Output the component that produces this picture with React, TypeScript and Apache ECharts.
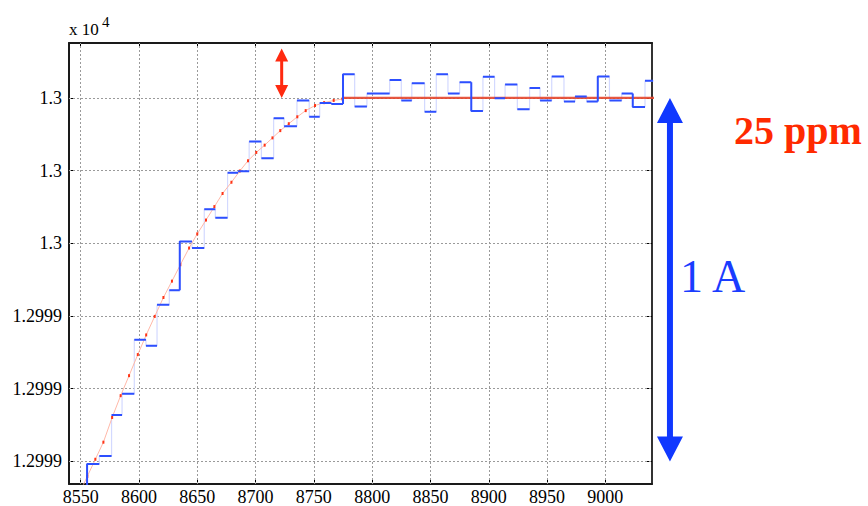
import React, { useEffect, useRef } from "react";
import * as echarts from "echarts";

// ---------- data ----------
const X_TICKS = [8550, 8600, 8650, 8700, 8750, 8800, 8850, 8900, 8950, 9000];
const Y_TICKS = [12999.0, 12999.2, 12999.4, 12999.6, 12999.8, 13000.0];
const Y_TICK_LABELS = ["1.2999", "1.2999", "1.2999", "1.3", "1.3", "1.3"];

// measured (stepped) current: edges of each sample interval and its level
const STEP_EDGES = [
  8545.5, 8555.5, 8566, 8576.5, 8585.5, 8596, 8606, 8615.5, 8626, 8635, 8645.5,
  8656, 8665.5, 8676, 8685, 8694.5, 8705, 8715.5, 8724.5, 8735.5, 8746,
  8755, 8765, 8775, 8785, 8795.5, 8805, 8815, 8825, 8834, 8845,
  8855, 8865, 8875, 8885, 8895, 8905, 8914, 8924.5, 8935, 8944,
  8954, 8964.5, 8974, 8984, 8993.5, 9003.5, 9014, 9023.5, 9034, 9044,
];
const STEP_LEVELS = [
  12998.9, 12998.993, 12999.015, 12999.128, 12999.186, 12999.335, 12999.318, 12999.431, 12999.471, 12999.605, 12999.587,
  12999.694, 12999.67, 12999.794, 12999.798, 12999.88, 12999.834, 12999.944, 12999.922, 12999.993, 12999.948,
  12999.986, 12999.983, 13000.065, 12999.976, 13000.012, 13000.012, 13000.049, 12999.993, 13000.04, 12999.962,
  13000.065, 13000.012, 13000.043, 12999.964, 13000.058, 12999.999, 13000.037, 12999.969, 13000.027, 12999.993,
  13000.059, 12999.99, 13000.004, 12999.99, 13000.059, 12999.993, 13000.012, 12999.975, 13000.047,
];
// intervals whose leading edge is drawn as a dark vertical
const DARK_RISES = [1, 9, 23, 34, 45, 48];

// model (reference) curve
const MODEL_X = [
  8548.5, 8555.7, 8562.6, 8569.5, 8577.0, 8584.3, 8591.5, 8599.0, 8606.2, 8613.5, 8621.0,
  8628.3, 8635.5, 8643.0, 8650.0, 8657.5, 8664.7, 8671.7, 8679.3, 8686.5, 8693.5, 8700.6,
  8707.8, 8714.5, 8721.2, 8728.5, 8735.8, 8743.0, 8751.0, 8758.8, 8767.0, 8774.5,
];
const MODEL_Y = [
  12998.91, 12998.959, 12999.006, 12999.053, 12999.121, 12999.181, 12999.236, 12999.294, 12999.348, 12999.399, 12999.451,
  12999.496, 12999.541, 12999.587, 12999.626, 12999.664, 12999.701, 12999.737, 12999.768, 12999.799, 12999.827, 12999.85,
  12999.87, 12999.89, 12999.91, 12999.929, 12999.948, 12999.965, 12999.979, 12999.987, 12999.993, 12999.997,
];
const PLATEAU_X = [8774.5, 9045];
const PLATEAU_Y = [13000.0, 13000.0];

// annotations (data coordinates)
const PPM_ARROW = { x: 8722.4, top: 13000.136, bottom: 13000.0 };
const AMP_ARROW = { x: 9055.4, top: 13000.0, bottom: 12999.0 };

const FONT = "Liberation Serif";

function doubleArrow(
  cx: number,
  yTop: number,
  yBot: number,
  headLen: number,
  headW: number,
  shaftW: number,
  color: string
) {
  const hw = headW / 2;
  const sw = shaftW / 2;
  return {
    type: "polygon",
    shape: {
      points: [
        [cx, yTop],
        [cx + hw, yTop + headLen],
        [cx + sw, yTop + headLen],
        [cx + sw, yBot - headLen],
        [cx + hw, yBot - headLen],
        [cx, yBot],
        [cx - hw, yBot - headLen],
        [cx - sw, yBot - headLen],
        [cx - sw, yTop + headLen],
        [cx - hw, yTop + headLen],
      ],
    },
    style: { fill: color },
    z: 20,
  };
}

export default function App() {
  const ref = useRef<HTMLDivElement>(null);

  useEffect(() => {
    const chart = echarts.init(ref.current!, null, { renderer: "svg" });

    const lightData: any[] = [];
    const darkData: any[] = [];
    for (let i = 0; i < STEP_LEVELS.length; i++) {
      lightData.push([STEP_EDGES[i], STEP_LEVELS[i]]);
      lightData.push([STEP_EDGES[i + 1], STEP_LEVELS[i]]);
      if (i > 0 && DARK_RISES.includes(i)) darkData.push([STEP_EDGES[i], STEP_LEVELS[i - 1]]);
      darkData.push([STEP_EDGES[i], STEP_LEVELS[i]]);
      darkData.push([STEP_EDGES[i + 1], STEP_LEVELS[i]]);
      darkData.push([STEP_EDGES[i + 1], "-"]);
    }
    const modelData = MODEL_X.map((x, i) => [x, MODEL_Y[i]]);
    const plateauData = PLATEAU_X.map((x, i) => [x, PLATEAU_Y[i]]);

    const axisLineStyle = { color: "#1a1a1a", width: 2 };
    const tickStyle = { color: "#000", width: 1 };
    const yFmt = (v: number) => {
      const i = Y_TICKS.findIndex((t) => Math.abs(t - v) < 1e-6);
      return i >= 0 ? Y_TICK_LABELS[i] : "";
    };
    const xFmt = (v: number) => String(Math.round(v));

    const option: any = {
      animation: false,
      backgroundColor: "#fff",
      textStyle: { fontFamily: FONT },
      grid: { left: 69, right: 216, top: 43, bottom: 22, containLabel: false, outerBoundsMode: "none" },
      xAxis: [
        {
          type: "value",
          position: "bottom",
          min: 8540,
          max: 9040,
          axisLine: { show: true, onZero: false, lineStyle: axisLineStyle },
          axisTick: { show: true, inside: true, length: 5, customValues: X_TICKS, lineStyle: tickStyle },
          axisLabel: { customValues: X_TICKS, formatter: xFmt, fontFamily: FONT, fontSize: 18, color: "#000", margin: 4 },
          splitLine: { show: false },
        },
        {
          type: "value",
          position: "top",
          min: 8540,
          max: 9040,
          axisLine: { show: true, onZero: false, lineStyle: axisLineStyle },
          axisTick: { show: true, inside: true, length: 5, customValues: X_TICKS, lineStyle: tickStyle },
          axisLabel: { show: false },
          splitLine: { show: false },
        },
      ],
      yAxis: [
        {
          type: "value",
          position: "left",
          min: 12998.938,
          max: 13000.151,
          axisLine: { show: true, onZero: false, lineStyle: axisLineStyle },
          axisTick: { show: true, inside: true, length: 5, customValues: Y_TICKS, lineStyle: tickStyle },
          axisLabel: { customValues: Y_TICKS, formatter: yFmt, fontFamily: FONT, fontSize: 18, color: "#000", margin: 7 },
          splitLine: { show: false },
        },
        {
          type: "value",
          position: "right",
          min: 12998.938,
          max: 13000.151,
          axisLine: { show: true, onZero: false, lineStyle: { color: "#333", width: 2 } },
          axisTick: { show: true, inside: true, length: 5, customValues: Y_TICKS, lineStyle: tickStyle },
          axisLabel: { show: false },
          splitLine: { show: false },
        },
      ],
      series: [
        {
          name: "grid",
          type: "line",
          data: [],
          silent: true,
          markLine: {
            z: 1,
            silent: true,
            symbol: ["none", "none"],
            label: { show: false },
            lineStyle: { color: "#9a9a9a", type: [2, 2], width: 1 },
            emphasis: { disabled: true },
            data: [
              ...X_TICKS.map((v) => ({ xAxis: v })),
              ...Y_TICKS.map((v) => ({ yAxis: v })),
            ],
          },
        },
        {
          name: "connectors",
          type: "line",
          z: 3,
          data: lightData,
          showSymbol: false,
          lineStyle: { color: "#d3d9ff", width: 1.2 },
          silent: true,
        },
        {
          name: "model",
          type: "line",
          z: 4,
          data: modelData,
          symbol: "rect",
          symbolSize: [2, 3],
          showSymbol: true,
          itemStyle: { color: "#ff3416" },
          lineStyle: { color: "#ffb8a8", width: 1 },
          silent: true,
        },
        {
          name: "plateau",
          type: "line",
          z: 4,
          data: plateauData,
          showSymbol: false,
          lineStyle: { color: "#e4462c", width: 2.2, opacity: 0.9 },
          silent: true,
        },
        {
          name: "measured",
          type: "line",
          z: 5,
          data: darkData,
          connectNulls: false,
          showSymbol: false,
          lineStyle: { color: "#2d4fff", width: 2 },
          silent: true,
        },
      ],
    };
    chart.setOption(option);

    const px = (x: number, y: number) =>
      chart.convertToPixel({ xAxisIndex: 0, yAxisIndex: 0 }, [x, y]) as number[];
    const pT = px(PPM_ARROW.x, PPM_ARROW.top);
    const pB = px(PPM_ARROW.x, PPM_ARROW.bottom);
    const aT = px(AMP_ARROW.x, AMP_ARROW.top);
    const aB = px(AMP_ARROW.x, AMP_ARROW.bottom);

    chart.setOption({
      graphic: [
        doubleArrow(pT[0], pT[1], pB[1], 13, 13, 3, "#ff2a10"),
        doubleArrow(aT[0], aT[1], aB[1], 25, 26, 6, "#1038ff"),
        {
          type: "text",
          x: 734,
          y: 130.5,
          z: 20,
          style: {
            text: "25 ppm",
            fontFamily: FONT,
            fontSize: 40,
            fontWeight: "bold",
            fill: "#ff2a00",
            verticalAlign: "middle",
          },
        },
        {
          type: "text",
          x: 680,
          y: 276,
          z: 20,
          style: {
            text: "1 A",
            fontFamily: FONT,
            fontSize: 46,
            fill: "#1a3cff",
            verticalAlign: "middle",
          },
        },
        {
          type: "text",
          x: 69,
          y: 29,
          z: 20,
          style: { text: "x 10", fontFamily: FONT, fontSize: 17, fill: "#000", verticalAlign: "middle" },
        },
        {
          type: "text",
          x: 102,
          y: 22,
          z: 20,
          style: { text: "4", fontFamily: FONT, fontSize: 15, fill: "#000", verticalAlign: "middle" },
        },
      ],
    });

    return () => chart.dispose();
  }, []);

  return (
    <div
      ref={ref}
      style={{ position: "fixed", left: 0, top: 0, width: 868, height: 506, background: "#fff" }}
    />
  );
}
